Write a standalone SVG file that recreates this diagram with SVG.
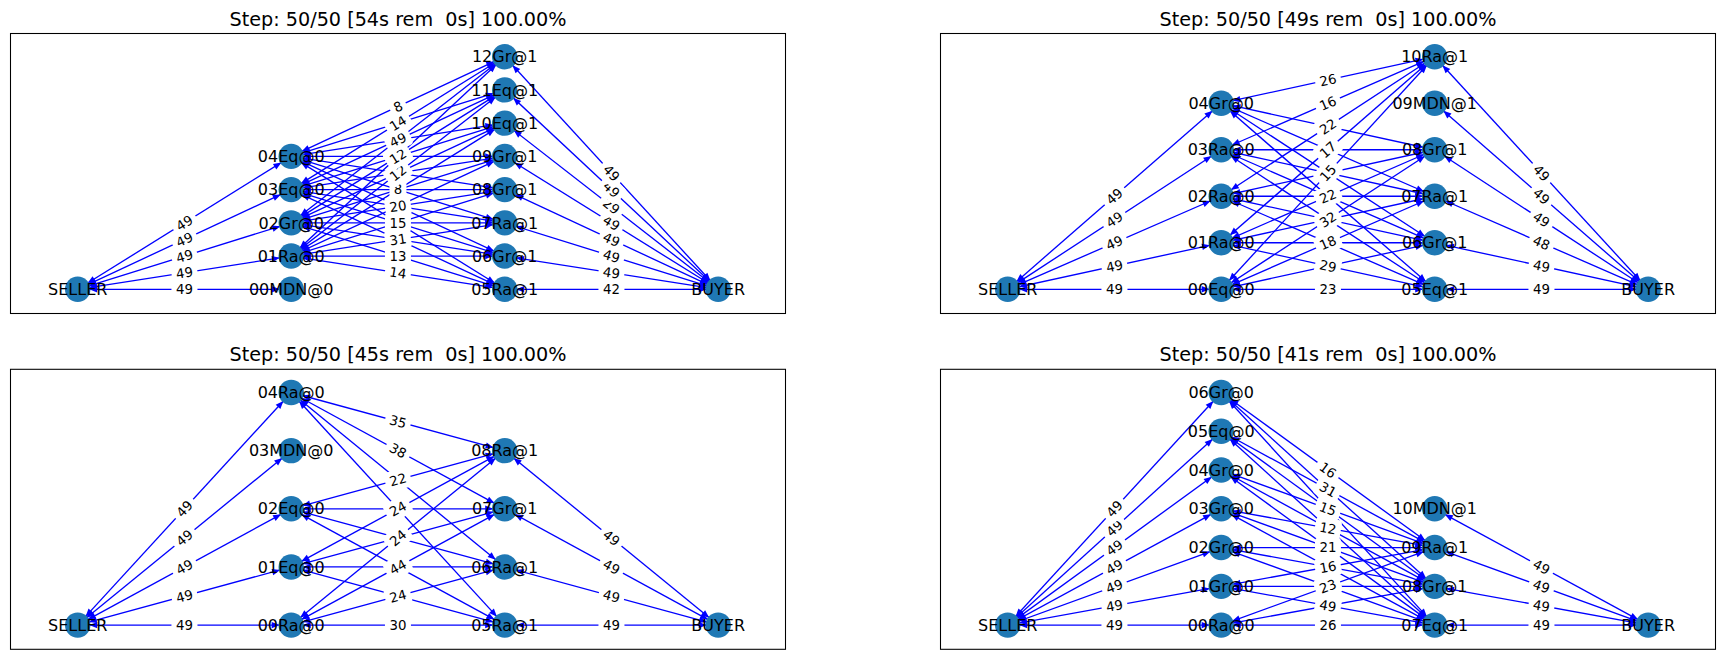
<svg xmlns="http://www.w3.org/2000/svg" xmlns:xlink="http://www.w3.org/1999/xlink" width="1725" height="659" viewBox="0 0 1725 659">
<style>
.frame{fill:#fff;stroke:#000;stroke-width:1.07}
.title{font-family:'DejaVu Sans',sans-serif;font-size:19.2px;text-anchor:middle;fill:#000;white-space:pre}
.edges{stroke:#0000ff;stroke-width:1.33;fill:none;marker-start:url(#ah);marker-end:url(#ah)}
.lbl text{font-family:'DejaVu Sans',sans-serif;font-size:13.33px;text-anchor:middle;fill:#000}
.node circle{fill:#1f78b4}
.node text{font-family:'DejaVu Sans',sans-serif;font-size:16px;text-anchor:middle;fill:#000}
</style>
<defs>
<marker id="ah" markerUnits="userSpaceOnUse" orient="auto-start-reverse" refX="11.5" refY="0" markerWidth="40" markerHeight="40" overflow="visible">
<path d="M0,0 L-8,-3.2 L-8,3.2 Z" fill="#0000ff" stroke="none"/>
</marker>
<rect id="b2" x="-13" y="-10" width="26" height="20" rx="4" fill="#fff"/>
<rect id="b1" x="-8.5" y="-10" width="17" height="20" rx="4" fill="#fff"/>
</defs>
<rect width="1725" height="659" fill="#fff"/>

<!-- PANEL 1 -->
<g id="panel1" transform="translate(0,33.5)">
<rect class="frame" x="10.5" y="0" width="775" height="280"/>
<text class="title" x="398" y="-8" xml:space="preserve">Step: 50/50 [54s rem  0s] 100.00%</text>
<g id="p1-connectors" class="edges">
<line x1="77.7" y1="255.8" x2="291.2" y2="255.8"/>
<line x1="77.7" y1="255.8" x2="291.2" y2="222.57"/>
<line x1="77.7" y1="255.8" x2="291.2" y2="189.34"/>
<line x1="77.7" y1="255.8" x2="291.2" y2="156.11"/>
<line x1="77.7" y1="255.8" x2="291.2" y2="122.88"/>
<line x1="291.2" y1="222.57" x2="504.7" y2="255.8"/>
<line x1="291.2" y1="222.57" x2="504.7" y2="222.57"/>
<line x1="291.2" y1="222.57" x2="504.7" y2="189.34"/>
<line x1="291.2" y1="222.57" x2="504.7" y2="156.11"/>
<line x1="291.2" y1="222.57" x2="504.7" y2="122.88"/>
<line x1="291.2" y1="222.57" x2="504.7" y2="89.65"/>
<line x1="291.2" y1="222.57" x2="504.7" y2="56.42"/>
<line x1="291.2" y1="222.57" x2="504.7" y2="23.2"/>
<line x1="291.2" y1="189.34" x2="504.7" y2="255.8"/>
<line x1="291.2" y1="189.34" x2="504.7" y2="222.57"/>
<line x1="291.2" y1="189.34" x2="504.7" y2="189.34"/>
<line x1="291.2" y1="189.34" x2="504.7" y2="156.11"/>
<line x1="291.2" y1="189.34" x2="504.7" y2="122.88"/>
<line x1="291.2" y1="189.34" x2="504.7" y2="89.65"/>
<line x1="291.2" y1="189.34" x2="504.7" y2="56.42"/>
<line x1="291.2" y1="189.34" x2="504.7" y2="23.2"/>
<line x1="291.2" y1="156.11" x2="504.7" y2="255.8"/>
<line x1="291.2" y1="156.11" x2="504.7" y2="222.57"/>
<line x1="291.2" y1="156.11" x2="504.7" y2="189.34"/>
<line x1="291.2" y1="156.11" x2="504.7" y2="156.11"/>
<line x1="291.2" y1="156.11" x2="504.7" y2="122.88"/>
<line x1="291.2" y1="156.11" x2="504.7" y2="89.65"/>
<line x1="291.2" y1="156.11" x2="504.7" y2="56.42"/>
<line x1="291.2" y1="156.11" x2="504.7" y2="23.2"/>
<line x1="291.2" y1="122.88" x2="504.7" y2="255.8"/>
<line x1="291.2" y1="122.88" x2="504.7" y2="222.57"/>
<line x1="291.2" y1="122.88" x2="504.7" y2="189.34"/>
<line x1="291.2" y1="122.88" x2="504.7" y2="156.11"/>
<line x1="291.2" y1="122.88" x2="504.7" y2="122.88"/>
<line x1="291.2" y1="122.88" x2="504.7" y2="89.65"/>
<line x1="291.2" y1="122.88" x2="504.7" y2="56.42"/>
<line x1="291.2" y1="122.88" x2="504.7" y2="23.2"/>
<line x1="504.7" y1="255.8" x2="718.2" y2="255.8"/>
<line x1="504.7" y1="222.57" x2="718.2" y2="255.8"/>
<line x1="504.7" y1="189.34" x2="718.2" y2="255.8"/>
<line x1="504.7" y1="156.11" x2="718.2" y2="255.8"/>
<line x1="504.7" y1="122.88" x2="718.2" y2="255.8"/>
<line x1="504.7" y1="89.65" x2="718.2" y2="255.8"/>
<line x1="504.7" y1="56.42" x2="718.2" y2="255.8"/>
<line x1="504.7" y1="23.2" x2="718.2" y2="255.8"/>
</g>
<g id="p1-edge-labels" class="lbl">
<g transform="translate(184.45,255.8)"><use href="#b2"/><text y="4.8">49</text></g>
<g transform="translate(184.45,239.19) rotate(-8.85)"><use href="#b2"/><text y="4.8">49</text></g>
<g transform="translate(184.45,222.57) rotate(-17.29)"><use href="#b2"/><text y="4.8">49</text></g>
<g transform="translate(184.45,205.96) rotate(-25.03)"><use href="#b2"/><text y="4.8">49</text></g>
<g transform="translate(184.45,189.34) rotate(-31.9)"><use href="#b2"/><text y="4.8">49</text></g>
<g transform="translate(611.45,255.8)"><use href="#b2"/><text y="4.8">42</text></g>
<g transform="translate(611.45,239.19) rotate(8.85)"><use href="#b2"/><text y="4.8">49</text></g>
<g transform="translate(611.45,222.57) rotate(17.29)"><use href="#b2"/><text y="4.8">49</text></g>
<g transform="translate(611.45,205.96) rotate(25.03)"><use href="#b2"/><text y="4.8">49</text></g>
<g transform="translate(611.45,189.34) rotate(31.9)"><use href="#b2"/><text y="4.8">49</text></g>
<g transform="translate(611.45,172.73) rotate(37.89)"><use href="#b2"/><text y="4.8">29</text></g>
<g transform="translate(611.45,156.11) rotate(43.04)"><use href="#b2"/><text y="4.8">49</text></g>
<g transform="translate(611.45,139.5) rotate(47.45)"><use href="#b2"/><text y="4.8">49</text></g>
<g transform="translate(397.95,239.19) rotate(8.85)"><use href="#b2"/><text y="4.8">14</text></g>
<g transform="translate(397.95,222.57)"><use href="#b2"/><text y="4.8">13</text></g>
<g transform="translate(397.95,205.96) rotate(-8.85)"><use href="#b2"/><text y="4.8">31</text></g>
<g transform="translate(397.95,189.34)"><use href="#b2"/><text y="4.8">15</text></g>
<g transform="translate(397.95,172.73) rotate(-8.85)"><use href="#b2"/><text y="4.8">20</text></g>
<g transform="translate(397.95,156.11)"><use href="#b1"/><text y="4.8">8</text></g>
<g transform="translate(397.95,139.5) rotate(-37.89)"><use href="#b2"/><text y="4.8">12</text></g>
<g transform="translate(397.95,122.88) rotate(-31.9)"><use href="#b2"/><text y="4.8">12</text></g>
<g transform="translate(397.95,106.27) rotate(-25.03)"><use href="#b2"/><text y="4.8">49</text></g>
<g transform="translate(397.95,89.65) rotate(-31.9)"><use href="#b2"/><text y="4.8">14</text></g>
<g transform="translate(397.95,73.03) rotate(-25.03)"><use href="#b1"/><text y="4.8">8</text></g>
</g>
<g id="p1-SELLER" class="node"><circle cx="77.7" cy="255.8" r="12.7"/><text x="77.7" y="261.5">SELLER</text></g>
<g id="p1-00MDN0" class="node"><circle cx="291.2" cy="255.8" r="12.7"/><text x="291.2" y="261.5">00MDN@0</text></g>
<g id="p1-01Ra0" class="node"><circle cx="291.2" cy="222.57" r="12.7"/><text x="291.2" y="228.27">01Ra@0</text></g>
<g id="p1-02Gr0" class="node"><circle cx="291.2" cy="189.34" r="12.7"/><text x="291.2" y="195.04">02Gr@0</text></g>
<g id="p1-03Eq0" class="node"><circle cx="291.2" cy="156.11" r="12.7"/><text x="291.2" y="161.81">03Eq@0</text></g>
<g id="p1-04Eq0" class="node"><circle cx="291.2" cy="122.88" r="12.7"/><text x="291.2" y="128.58">04Eq@0</text></g>
<g id="p1-05Ra1" class="node"><circle cx="504.7" cy="255.8" r="12.7"/><text x="504.7" y="261.5">05Ra@1</text></g>
<g id="p1-06Gr1" class="node"><circle cx="504.7" cy="222.57" r="12.7"/><text x="504.7" y="228.27">06Gr@1</text></g>
<g id="p1-07Ra1" class="node"><circle cx="504.7" cy="189.34" r="12.7"/><text x="504.7" y="195.04">07Ra@1</text></g>
<g id="p1-08Gr1" class="node"><circle cx="504.7" cy="156.11" r="12.7"/><text x="504.7" y="161.81">08Gr@1</text></g>
<g id="p1-09Gr1" class="node"><circle cx="504.7" cy="122.88" r="12.7"/><text x="504.7" y="128.58">09Gr@1</text></g>
<g id="p1-10Eq1" class="node"><circle cx="504.7" cy="89.65" r="12.7"/><text x="504.7" y="95.35">10Eq@1</text></g>
<g id="p1-11Eq1" class="node"><circle cx="504.7" cy="56.42" r="12.7"/><text x="504.7" y="62.12">11Eq@1</text></g>
<g id="p1-12Gr1" class="node"><circle cx="504.7" cy="23.2" r="12.7"/><text x="504.7" y="28.9">12Gr@1</text></g>
<g id="p1-BUYER" class="node"><circle cx="718.2" cy="255.8" r="12.7"/><text x="718.2" y="261.5">BUYER</text></g>
</g>

<!-- PANEL 2 -->
<g id="panel2" transform="translate(930,33.5)">
<rect class="frame" x="10.5" y="0" width="775" height="280"/>
<text class="title" x="398" y="-8" xml:space="preserve">Step: 50/50 [49s rem  0s] 100.00%</text>
<g id="p2-connectors" class="edges">
<line x1="77.7" y1="255.8" x2="291.2" y2="255.8"/>
<line x1="77.7" y1="255.8" x2="291.2" y2="209.28"/>
<line x1="77.7" y1="255.8" x2="291.2" y2="162.76"/>
<line x1="77.7" y1="255.8" x2="291.2" y2="116.24"/>
<line x1="77.7" y1="255.8" x2="291.2" y2="69.72"/>
<line x1="291.2" y1="255.8" x2="504.7" y2="255.8"/>
<line x1="291.2" y1="255.8" x2="504.7" y2="209.28"/>
<line x1="291.2" y1="255.8" x2="504.7" y2="162.76"/>
<line x1="291.2" y1="255.8" x2="504.7" y2="116.24"/>
<line x1="291.2" y1="255.8" x2="504.7" y2="23.2"/>
<line x1="291.2" y1="209.28" x2="504.7" y2="255.8"/>
<line x1="291.2" y1="209.28" x2="504.7" y2="209.28"/>
<line x1="291.2" y1="209.28" x2="504.7" y2="162.76"/>
<line x1="291.2" y1="209.28" x2="504.7" y2="116.24"/>
<line x1="291.2" y1="209.28" x2="504.7" y2="23.2"/>
<line x1="291.2" y1="162.76" x2="504.7" y2="255.8"/>
<line x1="291.2" y1="162.76" x2="504.7" y2="209.28"/>
<line x1="291.2" y1="162.76" x2="504.7" y2="162.76"/>
<line x1="291.2" y1="162.76" x2="504.7" y2="116.24"/>
<line x1="291.2" y1="162.76" x2="504.7" y2="23.2"/>
<line x1="291.2" y1="116.24" x2="504.7" y2="255.8"/>
<line x1="291.2" y1="116.24" x2="504.7" y2="209.28"/>
<line x1="291.2" y1="116.24" x2="504.7" y2="162.76"/>
<line x1="291.2" y1="116.24" x2="504.7" y2="116.24"/>
<line x1="291.2" y1="116.24" x2="504.7" y2="23.2"/>
<line x1="291.2" y1="69.72" x2="504.7" y2="255.8"/>
<line x1="291.2" y1="69.72" x2="504.7" y2="209.28"/>
<line x1="291.2" y1="69.72" x2="504.7" y2="162.76"/>
<line x1="291.2" y1="69.72" x2="504.7" y2="116.24"/>
<line x1="291.2" y1="69.72" x2="504.7" y2="23.2"/>
<line x1="504.7" y1="255.8" x2="718.2" y2="255.8"/>
<line x1="504.7" y1="209.28" x2="718.2" y2="255.8"/>
<line x1="504.7" y1="162.76" x2="718.2" y2="255.8"/>
<line x1="504.7" y1="116.24" x2="718.2" y2="255.8"/>
<line x1="504.7" y1="69.72" x2="718.2" y2="255.8"/>
<line x1="504.7" y1="23.2" x2="718.2" y2="255.8"/>
</g>
<g id="p2-edge-labels" class="lbl">
<g transform="translate(184.45,255.8)"><use href="#b2"/><text y="4.8">49</text></g>
<g transform="translate(184.45,232.54) rotate(-12.29)"><use href="#b2"/><text y="4.8">49</text></g>
<g transform="translate(184.45,209.28) rotate(-23.55)"><use href="#b2"/><text y="4.8">49</text></g>
<g transform="translate(184.45,186.02) rotate(-33.17)"><use href="#b2"/><text y="4.8">49</text></g>
<g transform="translate(184.45,162.76) rotate(-41.07)"><use href="#b2"/><text y="4.8">49</text></g>
<g transform="translate(611.45,255.8)"><use href="#b2"/><text y="4.8">49</text></g>
<g transform="translate(611.45,232.54) rotate(12.29)"><use href="#b2"/><text y="4.8">49</text></g>
<g transform="translate(611.45,209.28) rotate(23.55)"><use href="#b2"/><text y="4.8">48</text></g>
<g transform="translate(611.45,186.02) rotate(33.17)"><use href="#b2"/><text y="4.8">49</text></g>
<g transform="translate(611.45,162.76) rotate(41.07)"><use href="#b2"/><text y="4.8">49</text></g>
<g transform="translate(611.45,139.5) rotate(47.45)"><use href="#b2"/><text y="4.8">49</text></g>
<g transform="translate(397.95,255.8)"><use href="#b2"/><text y="4.8">23</text></g>
<g transform="translate(397.95,232.54) rotate(12.29)"><use href="#b2"/><text y="4.8">29</text></g>
<g transform="translate(397.95,209.28) rotate(-23.55)"><use href="#b2"/><text y="4.8">18</text></g>
<g transform="translate(397.95,186.02) rotate(-33.17)"><use href="#b2"/><text y="4.8">32</text></g>
<g transform="translate(397.95,162.76) rotate(-23.55)"><use href="#b2"/><text y="4.8">22</text></g>
<g transform="translate(397.95,139.5) rotate(-47.45)"><use href="#b2"/><text y="4.8">15</text></g>
<g transform="translate(397.95,116.24) rotate(-41.07)"><use href="#b2"/><text y="4.8">17</text></g>
<g transform="translate(397.95,92.98) rotate(-33.17)"><use href="#b2"/><text y="4.8">22</text></g>
<g transform="translate(397.95,69.72) rotate(-23.55)"><use href="#b2"/><text y="4.8">16</text></g>
<g transform="translate(397.95,46.46) rotate(-12.29)"><use href="#b2"/><text y="4.8">26</text></g>
</g>
<g id="p2-SELLER" class="node"><circle cx="77.7" cy="255.8" r="12.7"/><text x="77.7" y="261.5">SELLER</text></g>
<g id="p2-00Eq0" class="node"><circle cx="291.2" cy="255.8" r="12.7"/><text x="291.2" y="261.5">00Eq@0</text></g>
<g id="p2-01Ra0" class="node"><circle cx="291.2" cy="209.28" r="12.7"/><text x="291.2" y="214.98">01Ra@0</text></g>
<g id="p2-02Ra0" class="node"><circle cx="291.2" cy="162.76" r="12.7"/><text x="291.2" y="168.46">02Ra@0</text></g>
<g id="p2-03Ra0" class="node"><circle cx="291.2" cy="116.24" r="12.7"/><text x="291.2" y="121.94">03Ra@0</text></g>
<g id="p2-04Gr0" class="node"><circle cx="291.2" cy="69.72" r="12.7"/><text x="291.2" y="75.42">04Gr@0</text></g>
<g id="p2-05Eq1" class="node"><circle cx="504.7" cy="255.8" r="12.7"/><text x="504.7" y="261.5">05Eq@1</text></g>
<g id="p2-06Gr1" class="node"><circle cx="504.7" cy="209.28" r="12.7"/><text x="504.7" y="214.98">06Gr@1</text></g>
<g id="p2-07Ra1" class="node"><circle cx="504.7" cy="162.76" r="12.7"/><text x="504.7" y="168.46">07Ra@1</text></g>
<g id="p2-08Gr1" class="node"><circle cx="504.7" cy="116.24" r="12.7"/><text x="504.7" y="121.94">08Gr@1</text></g>
<g id="p2-09MDN1" class="node"><circle cx="504.7" cy="69.72" r="12.7"/><text x="504.7" y="75.42">09MDN@1</text></g>
<g id="p2-10Ra1" class="node"><circle cx="504.7" cy="23.2" r="12.7"/><text x="504.7" y="28.9">10Ra@1</text></g>
<g id="p2-BUYER" class="node"><circle cx="718.2" cy="255.8" r="12.7"/><text x="718.2" y="261.5">BUYER</text></g>
</g>

<!-- PANEL 3 -->
<g id="panel3" transform="translate(0,369.3)">
<rect class="frame" x="10.5" y="0" width="775" height="280"/>
<text class="title" x="398" y="-8" xml:space="preserve">Step: 50/50 [45s rem  0s] 100.00%</text>
<g id="p3-connectors" class="edges">
<line x1="77.7" y1="255.8" x2="291.2" y2="255.8"/>
<line x1="77.7" y1="255.8" x2="291.2" y2="197.65"/>
<line x1="77.7" y1="255.8" x2="291.2" y2="139.5"/>
<line x1="77.7" y1="255.8" x2="291.2" y2="81.35"/>
<line x1="77.7" y1="255.8" x2="291.2" y2="23.2"/>
<line x1="291.2" y1="255.8" x2="504.7" y2="255.8"/>
<line x1="291.2" y1="255.8" x2="504.7" y2="197.65"/>
<line x1="291.2" y1="255.8" x2="504.7" y2="139.5"/>
<line x1="291.2" y1="255.8" x2="504.7" y2="81.35"/>
<line x1="291.2" y1="197.65" x2="504.7" y2="255.8"/>
<line x1="291.2" y1="197.65" x2="504.7" y2="197.65"/>
<line x1="291.2" y1="197.65" x2="504.7" y2="139.5"/>
<line x1="291.2" y1="197.65" x2="504.7" y2="81.35"/>
<line x1="291.2" y1="139.5" x2="504.7" y2="255.8"/>
<line x1="291.2" y1="139.5" x2="504.7" y2="197.65"/>
<line x1="291.2" y1="139.5" x2="504.7" y2="139.5"/>
<line x1="291.2" y1="139.5" x2="504.7" y2="81.35"/>
<line x1="291.2" y1="23.2" x2="504.7" y2="255.8"/>
<line x1="291.2" y1="23.2" x2="504.7" y2="197.65"/>
<line x1="291.2" y1="23.2" x2="504.7" y2="139.5"/>
<line x1="291.2" y1="23.2" x2="504.7" y2="81.35"/>
<line x1="504.7" y1="255.8" x2="718.2" y2="255.8"/>
<line x1="504.7" y1="197.65" x2="718.2" y2="255.8"/>
<line x1="504.7" y1="139.5" x2="718.2" y2="255.8"/>
<line x1="504.7" y1="81.35" x2="718.2" y2="255.8"/>
</g>
<g id="p3-edge-labels" class="lbl">
<g transform="translate(184.45,255.8)"><use href="#b2"/><text y="4.8">49</text></g>
<g transform="translate(184.45,226.73) rotate(-15.24)"><use href="#b2"/><text y="4.8">49</text></g>
<g transform="translate(184.45,197.65) rotate(-28.58)"><use href="#b2"/><text y="4.8">49</text></g>
<g transform="translate(184.45,168.58) rotate(-39.25)"><use href="#b2"/><text y="4.8">49</text></g>
<g transform="translate(184.45,139.5) rotate(-47.45)"><use href="#b2"/><text y="4.8">49</text></g>
<g transform="translate(611.45,255.8)"><use href="#b2"/><text y="4.8">49</text></g>
<g transform="translate(611.45,226.73) rotate(15.24)"><use href="#b2"/><text y="4.8">49</text></g>
<g transform="translate(611.45,197.65) rotate(28.58)"><use href="#b2"/><text y="4.8">49</text></g>
<g transform="translate(611.45,168.58) rotate(39.25)"><use href="#b2"/><text y="4.8">49</text></g>
<g transform="translate(397.95,255.8)"><use href="#b2"/><text y="4.8">30</text></g>
<g transform="translate(397.95,226.73) rotate(-15.24)"><use href="#b2"/><text y="4.8">24</text></g>
<g transform="translate(397.95,197.65) rotate(-28.58)"><use href="#b2"/><text y="4.8">44</text></g>
<g transform="translate(397.95,168.58) rotate(-39.25)"><use href="#b2"/><text y="4.8">24</text></g>
<g transform="translate(397.95,139.5) rotate(-28.58)"><use href="#b2"/><text y="4.8">24</text></g>
<g transform="translate(397.95,110.43) rotate(-15.24)"><use href="#b2"/><text y="4.8">22</text></g>
<g transform="translate(397.95,81.35) rotate(28.58)"><use href="#b2"/><text y="4.8">38</text></g>
<g transform="translate(397.95,52.28) rotate(15.24)"><use href="#b2"/><text y="4.8">35</text></g>
</g>
<g id="p3-SELLER" class="node"><circle cx="77.7" cy="255.8" r="12.7"/><text x="77.7" y="261.5">SELLER</text></g>
<g id="p3-00Ra0" class="node"><circle cx="291.2" cy="255.8" r="12.7"/><text x="291.2" y="261.5">00Ra@0</text></g>
<g id="p3-01Eq0" class="node"><circle cx="291.2" cy="197.65" r="12.7"/><text x="291.2" y="203.35">01Eq@0</text></g>
<g id="p3-02Eq0" class="node"><circle cx="291.2" cy="139.5" r="12.7"/><text x="291.2" y="145.2">02Eq@0</text></g>
<g id="p3-03MDN0" class="node"><circle cx="291.2" cy="81.35" r="12.7"/><text x="291.2" y="87.05">03MDN@0</text></g>
<g id="p3-04Ra0" class="node"><circle cx="291.2" cy="23.2" r="12.7"/><text x="291.2" y="28.9">04Ra@0</text></g>
<g id="p3-05Ra1" class="node"><circle cx="504.7" cy="255.8" r="12.7"/><text x="504.7" y="261.5">05Ra@1</text></g>
<g id="p3-06Ra1" class="node"><circle cx="504.7" cy="197.65" r="12.7"/><text x="504.7" y="203.35">06Ra@1</text></g>
<g id="p3-07Gr1" class="node"><circle cx="504.7" cy="139.5" r="12.7"/><text x="504.7" y="145.2">07Gr@1</text></g>
<g id="p3-08Ra1" class="node"><circle cx="504.7" cy="81.35" r="12.7"/><text x="504.7" y="87.05">08Ra@1</text></g>
<g id="p3-BUYER" class="node"><circle cx="718.2" cy="255.8" r="12.7"/><text x="718.2" y="261.5">BUYER</text></g>
</g>

<!-- PANEL 4 -->
<g id="panel4" transform="translate(930,369.3)">
<rect class="frame" x="10.5" y="0" width="775" height="280"/>
<text class="title" x="398" y="-8" xml:space="preserve">Step: 50/50 [41s rem  0s] 100.00%</text>
<g id="p4-connectors" class="edges">
<line x1="77.7" y1="255.8" x2="291.2" y2="255.8"/>
<line x1="77.7" y1="255.8" x2="291.2" y2="217.03"/>
<line x1="77.7" y1="255.8" x2="291.2" y2="178.27"/>
<line x1="77.7" y1="255.8" x2="291.2" y2="139.5"/>
<line x1="77.7" y1="255.8" x2="291.2" y2="100.73"/>
<line x1="77.7" y1="255.8" x2="291.2" y2="61.97"/>
<line x1="77.7" y1="255.8" x2="291.2" y2="23.2"/>
<line x1="291.2" y1="255.8" x2="504.7" y2="255.8"/>
<line x1="291.2" y1="255.8" x2="504.7" y2="217.03"/>
<line x1="291.2" y1="255.8" x2="504.7" y2="178.27"/>
<line x1="291.2" y1="217.03" x2="504.7" y2="255.8"/>
<line x1="291.2" y1="217.03" x2="504.7" y2="217.03"/>
<line x1="291.2" y1="217.03" x2="504.7" y2="178.27"/>
<line x1="291.2" y1="178.27" x2="504.7" y2="255.8"/>
<line x1="291.2" y1="178.27" x2="504.7" y2="217.03"/>
<line x1="291.2" y1="178.27" x2="504.7" y2="178.27"/>
<line x1="291.2" y1="139.5" x2="504.7" y2="255.8"/>
<line x1="291.2" y1="139.5" x2="504.7" y2="217.03"/>
<line x1="291.2" y1="139.5" x2="504.7" y2="178.27"/>
<line x1="291.2" y1="100.73" x2="504.7" y2="255.8"/>
<line x1="291.2" y1="100.73" x2="504.7" y2="217.03"/>
<line x1="291.2" y1="100.73" x2="504.7" y2="178.27"/>
<line x1="291.2" y1="61.97" x2="504.7" y2="255.8"/>
<line x1="291.2" y1="61.97" x2="504.7" y2="217.03"/>
<line x1="291.2" y1="61.97" x2="504.7" y2="178.27"/>
<line x1="291.2" y1="23.2" x2="504.7" y2="255.8"/>
<line x1="291.2" y1="23.2" x2="504.7" y2="217.03"/>
<line x1="291.2" y1="23.2" x2="504.7" y2="178.27"/>
<line x1="504.7" y1="255.8" x2="718.2" y2="255.8"/>
<line x1="504.7" y1="217.03" x2="718.2" y2="255.8"/>
<line x1="504.7" y1="178.27" x2="718.2" y2="255.8"/>
<line x1="504.7" y1="139.5" x2="718.2" y2="255.8"/>
</g>
<g id="p4-edge-labels" class="lbl">
<g transform="translate(184.45,255.8)"><use href="#b2"/><text y="4.8">49</text></g>
<g transform="translate(184.45,236.42) rotate(-10.29)"><use href="#b2"/><text y="4.8">49</text></g>
<g transform="translate(184.45,217.03) rotate(-19.96)"><use href="#b2"/><text y="4.8">49</text></g>
<g transform="translate(184.45,197.65) rotate(-28.58)"><use href="#b2"/><text y="4.8">49</text></g>
<g transform="translate(184.45,178.27) rotate(-35.99)"><use href="#b2"/><text y="4.8">49</text></g>
<g transform="translate(184.45,158.88) rotate(-42.23)"><use href="#b2"/><text y="4.8">49</text></g>
<g transform="translate(184.45,139.5) rotate(-47.45)"><use href="#b2"/><text y="4.8">49</text></g>
<g transform="translate(611.45,255.8)"><use href="#b2"/><text y="4.8">49</text></g>
<g transform="translate(611.45,236.42) rotate(10.29)"><use href="#b2"/><text y="4.8">49</text></g>
<g transform="translate(611.45,217.03) rotate(19.96)"><use href="#b2"/><text y="4.8">49</text></g>
<g transform="translate(611.45,197.65) rotate(28.58)"><use href="#b2"/><text y="4.8">49</text></g>
<g transform="translate(397.95,255.8)"><use href="#b2"/><text y="4.8">26</text></g>
<g transform="translate(397.95,236.42) rotate(10.29)"><use href="#b2"/><text y="4.8">49</text></g>
<g transform="translate(397.95,217.03) rotate(-19.96)"><use href="#b2"/><text y="4.8">23</text></g>
<g transform="translate(397.95,197.65) rotate(-10.29)"><use href="#b2"/><text y="4.8">16</text></g>
<g transform="translate(397.95,178.27)"><use href="#b2"/><text y="4.8">21</text></g>
<g transform="translate(397.95,158.88) rotate(10.29)"><use href="#b2"/><text y="4.8">12</text></g>
<g transform="translate(397.95,139.5) rotate(19.96)"><use href="#b2"/><text y="4.8">15</text></g>
<g transform="translate(397.95,120.11) rotate(28.58)"><use href="#b2"/><text y="4.8">31</text></g>
<g transform="translate(397.95,100.73) rotate(35.99)"><use href="#b2"/><text y="4.8">16</text></g>
</g>
<g id="p4-SELLER" class="node"><circle cx="77.7" cy="255.8" r="12.7"/><text x="77.7" y="261.5">SELLER</text></g>
<g id="p4-00Ra0" class="node"><circle cx="291.2" cy="255.8" r="12.7"/><text x="291.2" y="261.5">00Ra@0</text></g>
<g id="p4-01Gr0" class="node"><circle cx="291.2" cy="217.03" r="12.7"/><text x="291.2" y="222.73">01Gr@0</text></g>
<g id="p4-02Gr0" class="node"><circle cx="291.2" cy="178.27" r="12.7"/><text x="291.2" y="183.97">02Gr@0</text></g>
<g id="p4-03Gr0" class="node"><circle cx="291.2" cy="139.5" r="12.7"/><text x="291.2" y="145.2">03Gr@0</text></g>
<g id="p4-04Gr0" class="node"><circle cx="291.2" cy="100.73" r="12.7"/><text x="291.2" y="106.43">04Gr@0</text></g>
<g id="p4-05Eq0" class="node"><circle cx="291.2" cy="61.97" r="12.7"/><text x="291.2" y="67.67">05Eq@0</text></g>
<g id="p4-06Gr0" class="node"><circle cx="291.2" cy="23.2" r="12.7"/><text x="291.2" y="28.9">06Gr@0</text></g>
<g id="p4-07Eq1" class="node"><circle cx="504.7" cy="255.8" r="12.7"/><text x="504.7" y="261.5">07Eq@1</text></g>
<g id="p4-08Gr1" class="node"><circle cx="504.7" cy="217.03" r="12.7"/><text x="504.7" y="222.73">08Gr@1</text></g>
<g id="p4-09Ra1" class="node"><circle cx="504.7" cy="178.27" r="12.7"/><text x="504.7" y="183.97">09Ra@1</text></g>
<g id="p4-10MDN1" class="node"><circle cx="504.7" cy="139.5" r="12.7"/><text x="504.7" y="145.2">10MDN@1</text></g>
<g id="p4-BUYER" class="node"><circle cx="718.2" cy="255.8" r="12.7"/><text x="718.2" y="261.5">BUYER</text></g>
</g>
</svg>
